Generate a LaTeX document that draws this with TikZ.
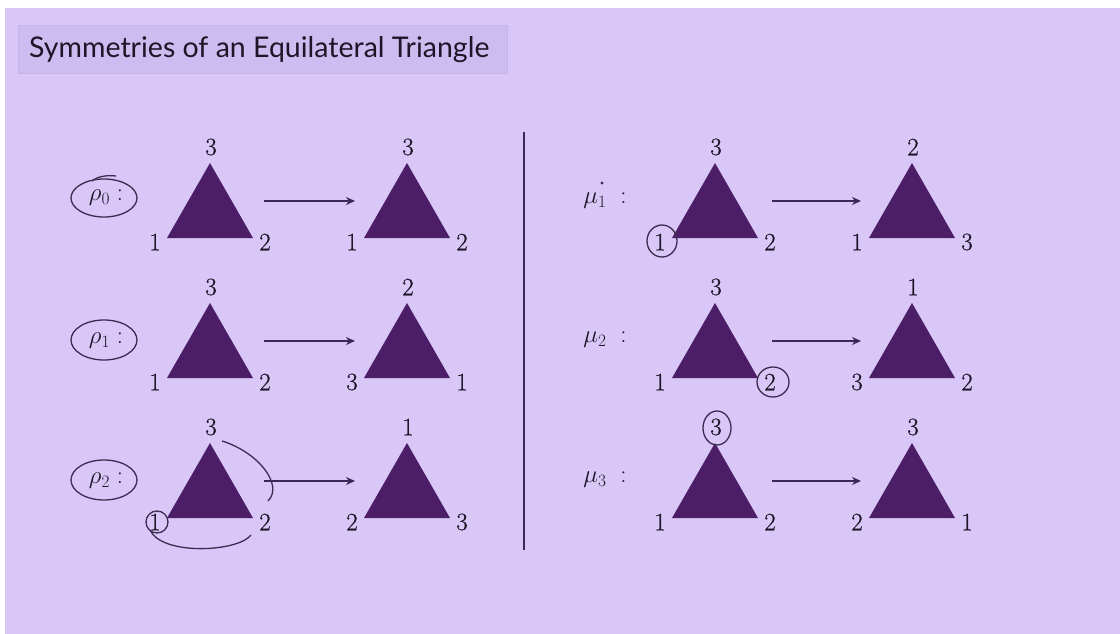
\documentclass[tikz,border=0pt]{standalone}
\usepackage{fontspec}
\newfontfamily\titlefont{Lato}
\newfontfamily\numfont[FakeBold=0.6]{Latin Modern Roman}
\usetikzlibrary{arrows.meta,calc}
\definecolor{bgc}{RGB}{216,199,247}
\definecolor{boxc}{RGB}{205,188,240}
\definecolor{boxedge}{RGB}{196,180,232}
\definecolor{tric}{RGB}{76,30,104}
\definecolor{linec}{RGB}{58,40,86}
\definecolor{penc}{RGB}{60,45,80}
\definecolor{txtc}{RGB}{30,22,40}
% \mytri{prefix}{apex x}{apex y}{top}{bottom-left}{bottom-right}
\newcommand\mytri[6]{%
  \coordinate (#1a) at (#2,#3);
  \coordinate (#1l) at (#2-43,#3+75);
  \coordinate (#1r) at (#2+43,#3+75);
  \fill[tric] (#1a) -- (#1l) -- (#1r) -- cycle;
  \node[num] (#1t) at (#2+1,#3-16) {#4};
  \node[num] (#1bl) at (#2-55,#3+79) {#5};
  \node[num] (#1br) at (#2+55,#3+79) {#6};
}
\begin{document}
\begin{tikzpicture}[x=1pt,y=-1pt,
  num/.style={font=\numfont\fontsize{25}{30}\selectfont, text=txtc, inner sep=0pt},
  lab/.style={font=\fontsize{26}{30}\selectfont, text=txtc, inner sep=0pt},
  arr/.style={draw=linec, line width=1.8pt, -{Stealth[length=9pt,width=8pt]}},
  pen/.style={draw=penc, line width=1.3pt},
  divider/.style={draw=linec, line width=1.4pt}]
\useasboundingbox (0,0) rectangle (1120,634);
\fill[white] (0,0) rectangle (1120,634);
\fill[bgc] (5,8) rectangle (1120,634);
% title
\node[fill=boxc, draw=boxedge, line width=0.8pt, minimum width=489pt, minimum height=48pt, anchor=north west, inner sep=0pt] (titlebox) at (18,25) {};
\node[anchor=west, inner sep=0pt, font=\titlefont\fontsize{28.5}{34}\selectfont, text=txtc] (title) at (29,50) {Symmetries of an Equilateral Triangle};
% divider
\coordinate (dtop) at (524,132);
\coordinate (dbot) at (524,550);
\draw[divider] (dtop) -- (dbot);
% left column
\node[lab] (rho0) at (106,198) {$\rho_0:$};
\node[lab] (rho1) at (106,341) {$\rho_1:$};
\node[lab] (rho2) at (106,481) {$\rho_2:$};
\mytri{A}{210}{163}{3}{1}{2}
\mytri{B}{407}{163}{3}{1}{2}
\mytri{C}{210}{303}{3}{1}{2}
\mytri{D}{407}{303}{2}{3}{1}
\mytri{E}{210}{443}{3}{1}{2}
\mytri{F}{407}{443}{1}{2}{3}
% right column
\node[lab] (mu1) at (605,201) {$\mu_1\;:$};
\node[lab] (mu2) at (605,340) {$\mu_2\;:$};
\node[lab] (mu3) at (605,480) {$\mu_3\;:$};
\mytri{G}{715}{163}{3}{1}{2}
\mytri{H}{912}{163}{2}{1}{3}
\mytri{I}{715}{303}{3}{1}{2}
\mytri{J}{912}{303}{1}{3}{2}
\mytri{K}{715}{443}{3}{1}{2}
\mytri{L}{912}{443}{3}{2}{1}
% arrows
\foreach \s/\t/\y in {A/B/201, C/D/341, E/F/481}{
  \coordinate (\s s) at (264,\y);
  \coordinate (\s e) at (355,\y);
  \draw[arr] (\s s) -- (\s e);
}
\foreach \s/\t/\y in {G/H/201, I/J/341, K/L/481}{
  \coordinate (\s s) at (772,\y);
  \coordinate (\s e) at (861,\y);
  \draw[arr] (\s s) -- (\s e);
}
% pen marks
\fill[penc] (602,183) circle [radius=1.7];
\draw[pen] (104,198) ellipse [x radius=33, y radius=19];
\draw[pen] (92,181) .. controls (98,176) and (108,175) .. (116,176);
\draw[pen] (104,340) ellipse [x radius=33, y radius=20];
\draw[pen] (104,480) ellipse [x radius=33, y radius=20];
\draw[pen] ($(Ebl)+(2,0)$) circle [radius=11];
\draw[pen] (222,441) .. controls (258,452) and (284,485) .. (268,501);
\draw[pen] (150,530) .. controls (162,556) and (238,552) .. (251,535);
\draw[pen] ($(Gbl)+(2,-1)$) ellipse [x radius=15, y radius=16];
\draw[pen] ($(Ibr)+(3,0)$) ellipse [x radius=16, y radius=15];
\draw[pen] ($(Kt)+(1,1)$) ellipse [x radius=14, y radius=17];
\end{tikzpicture}
\end{document}
